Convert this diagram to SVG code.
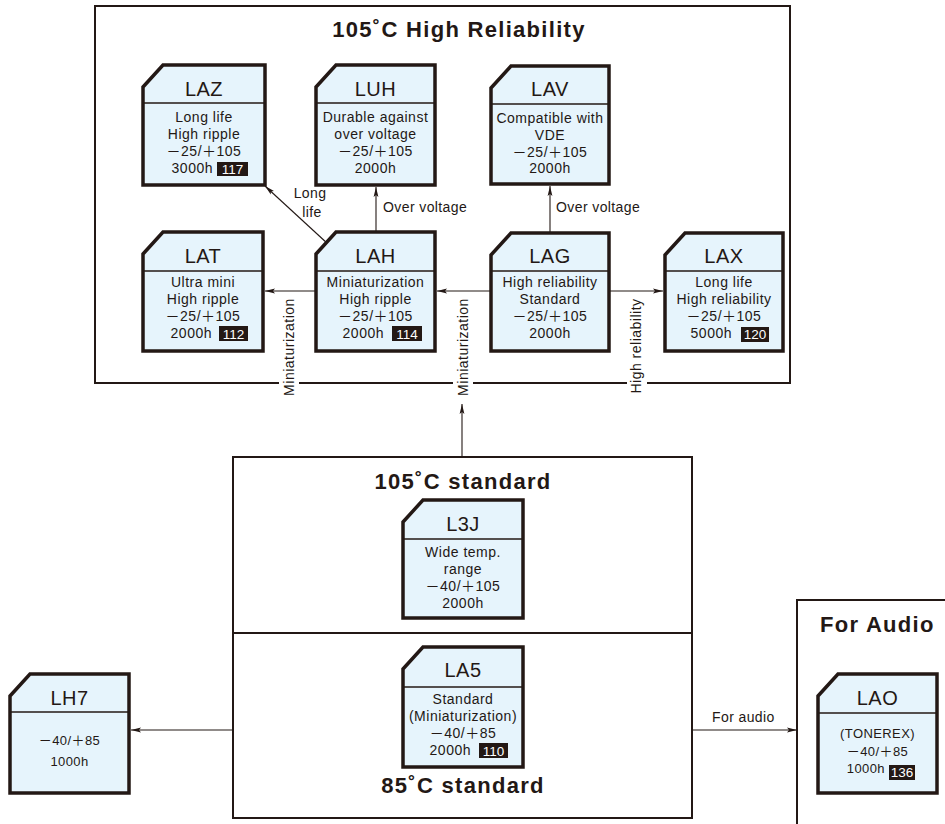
<svg xmlns="http://www.w3.org/2000/svg" width="945" height="824" viewBox="0 0 945 824">
<defs>
<style>
.grp{fill:none;stroke:#231815;stroke-width:2}
.nb{fill:#E6F4FC;stroke:#231815;stroke-width:3.5;stroke-linejoin:miter}
.sep{stroke:#231815;stroke-width:1.5}
text{font-family:"Liberation Sans","Noto Sans CJK JP",Arial,sans-serif;fill:#231815}
.hd{font-size:20px;text-anchor:middle;letter-spacing:0.5px}
.bd{font-size:14px;text-anchor:middle;letter-spacing:0.5px}
.bs{font-size:13px;text-anchor:middle;letter-spacing:0.4px}
.be{font-size:14px;text-anchor:end;letter-spacing:0.5px}
.bse{font-size:13px;text-anchor:end;letter-spacing:0.4px}
.ttl{font-size:22px;font-weight:bold;letter-spacing:1.3px}
.lbl{font-size:14px;letter-spacing:0.4px}
.vl{font-size:14px;letter-spacing:0.5px;text-anchor:middle}
.bg{fill:#231815}
.bt{font-size:13.5px;fill:#ffffff;text-anchor:middle}
.con{stroke:#231815;stroke-width:1.1;fill:none;marker-end:url(#ah)}
.gap{fill:#ffffff}
</style>
<marker id="ah" markerUnits="userSpaceOnUse" markerWidth="12" markerHeight="8" refX="10" refY="4" orient="auto">
<path d="M0,1.6 L10,4 L0,6.4 L2,4 Z" fill="#231815"/>
</marker>
</defs>
<rect width="945" height="824" fill="#ffffff"/>

<g id="group-boxes">
<rect class="grp" x="95" y="6" width="695" height="377"/>
<rect class="grp" x="233" y="457" width="459" height="361"/>
<line class="grp" x1="233" y1="633" x2="692" y2="633"/>
<rect class="grp" x="797" y="600" width="200" height="300"/>
<rect class="gap" x="279" y="379" width="20" height="8"/>
<rect class="gap" x="453" y="379" width="20" height="8"/>
<rect class="gap" x="627" y="379" width="20" height="8"/>
<text class="ttl" x="459" y="37" text-anchor="middle">105˚C High Reliability</text>
<text class="ttl" x="463" y="489" text-anchor="middle">105˚C standard</text>
<text class="ttl" x="463" y="793" text-anchor="middle">85˚C standard</text>
<text class="ttl" x="820" y="632">For Audio</text>
</g>

<g id="connectors">
<line class="con" x1="316" y1="291" x2="265" y2="291"/>
<line class="con" x1="491" y1="291" x2="437" y2="291"/>
<line class="con" x1="609" y1="291" x2="663" y2="291"/>
<line class="con" x1="328" y1="244" x2="265" y2="186"/>
<line class="con" x1="376" y1="232" x2="376" y2="187"/>
<line class="con" x1="550" y1="233" x2="550" y2="186"/>
<line class="con" x1="462" y1="457" x2="462" y2="404"/>
<line class="con" x1="233" y1="730" x2="131" y2="730"/>
<line class="con" x1="692" y1="730" x2="797" y2="730"/>
<text class="lbl" x="310" y="198" text-anchor="middle">Long</text>
<text class="lbl" x="312" y="217" text-anchor="middle">life</text>
<text class="lbl" x="383" y="212">Over voltage</text>
<text class="lbl" x="556" y="212">Over voltage</text>
<text class="lbl" x="712" y="722">For audio</text>
<text class="vl" transform="translate(294,347) rotate(-90)">Miniaturization</text>
<text class="vl" transform="translate(468,347) rotate(-90)">Miniaturization</text>
<text class="vl" transform="translate(641,346) rotate(-90)">High reliability</text>
</g>

<g id="LAZ">
<path class="nb" d="M163,65 H265 V185 H143 V87 Z"/>
<line class="sep" x1="143" y1="103" x2="265" y2="103"/>
<text class="hd" x="204" y="96">LAZ</text>
<text class="bd" x="204" y="122">Long life</text>
<text class="bd" x="204" y="139">High ripple</text>
<text class="bd" x="204" y="156">－25/＋105</text>
<text class="be" x="213" y="173">3000h</text>
<rect class="bg" x="217" y="162" width="31" height="14"/>
<text class="bt" x="232.5" y="173.5">117</text>
</g>

<g id="LUH">
<path class="nb" d="M336,65 H435 V185 H316 V87 Z"/>
<line class="sep" x1="316" y1="103" x2="435" y2="103"/>
<text class="hd" x="375.5" y="96">LUH</text>
<text class="bd" x="375.5" y="122">Durable against</text>
<text class="bd" x="375.5" y="139">over voltage</text>
<text class="bd" x="375.5" y="156">－25/＋105</text>
<text class="bd" x="375.5" y="173">2000h</text>
</g>

<g id="LAV">
<path class="nb" d="M511,66 H609 V184 H491 V88 Z"/>
<line class="sep" x1="491" y1="104" x2="609" y2="104"/>
<text class="hd" x="550" y="96">LAV</text>
<text class="bd" x="550" y="123">Compatible with</text>
<text class="bd" x="550" y="140">VDE</text>
<text class="bd" x="550" y="157">－25/＋105</text>
<text class="bd" x="550" y="173">2000h</text>
</g>

<g id="LAT">
<path class="nb" d="M163,232 H263 V351 H143 V254 Z"/>
<line class="sep" x1="143" y1="271" x2="263" y2="271"/>
<text class="hd" x="203" y="263">LAT</text>
<text class="bd" x="203" y="287">Ultra mini</text>
<text class="bd" x="203" y="304">High ripple</text>
<text class="bd" x="203" y="321">－25/＋105</text>
<text class="be" x="212" y="338">2000h</text>
<rect class="bg" x="219" y="326" width="29" height="15"/>
<text class="bt" x="233.5" y="338.5">112</text>
</g>

<g id="LAH">
<path class="nb" d="M336,232 H435 V351 H316 V254 Z"/>
<line class="sep" x1="316" y1="271" x2="435" y2="271"/>
<text class="hd" x="375.5" y="263">LAH</text>
<text class="bd" x="375.5" y="287">Miniaturization</text>
<text class="bd" x="375.5" y="304">High ripple</text>
<text class="bd" x="375.5" y="321">－25/＋105</text>
<text class="be" x="384" y="338">2000h</text>
<rect class="bg" x="392" y="326" width="30" height="15"/>
<text class="bt" x="407" y="338.5">114</text>
</g>

<g id="LAG">
<path class="nb" d="M511,233 H609 V351 H491 V255 Z"/>
<line class="sep" x1="491" y1="271" x2="609" y2="271"/>
<text class="hd" x="550" y="263">LAG</text>
<text class="bd" x="550" y="287">High reliability</text>
<text class="bd" x="550" y="304">Standard</text>
<text class="bd" x="550" y="321">－25/＋105</text>
<text class="bd" x="550" y="338">2000h</text>
</g>

<g id="LAX">
<path class="nb" d="M685,233 H783 V351 H665 V255 Z"/>
<line class="sep" x1="665" y1="271" x2="783" y2="271"/>
<text class="hd" x="724" y="263">LAX</text>
<text class="bd" x="724" y="287">Long life</text>
<text class="bd" x="724" y="304">High reliability</text>
<text class="bd" x="724" y="321">－25/＋105</text>
<text class="be" x="732" y="338">5000h</text>
<rect class="bg" x="741" y="327" width="28" height="15"/>
<text class="bt" x="755" y="339">120</text>
</g>

<g id="L3J">
<path class="nb" d="M423,500 H523 V618 H403 V522 Z"/>
<line class="sep" x1="403" y1="539" x2="523" y2="539"/>
<text class="hd" x="463" y="531">L3J</text>
<text class="bd" x="463" y="557">Wide temp.</text>
<text class="bd" x="463" y="574">range</text>
<text class="bd" x="463" y="591">－40/＋105</text>
<text class="bd" x="463" y="608">2000h</text>
</g>

<g id="LA5">
<path class="nb" d="M423,647 H523 V767 H403 V669 Z"/>
<line class="sep" x1="403" y1="687" x2="523" y2="687"/>
<text class="hd" x="463" y="677">LA5</text>
<text class="bd" x="463" y="704">Standard</text>
<text class="bd" x="463" y="721">(Miniaturization)</text>
<text class="bd" x="463" y="738">－40/＋85</text>
<text class="be" x="471" y="755">2000h</text>
<rect class="bg" x="479" y="743" width="29" height="15"/>
<text class="bt" x="493.5" y="755.5">110</text>
</g>

<g id="LH7">
<path class="nb" d="M30,674 H129 V793 H10 V696 Z"/>
<line class="sep" x1="10" y1="712" x2="129" y2="712"/>
<text class="hd" x="69.5" y="705">LH7</text>
<text class="bs" x="69.5" y="745">－40/＋85</text>
<text class="bs" x="69.5" y="766">1000h</text>
</g>

<g id="LAO">
<path class="nb" d="M838,674 H937 V793 H818 V696 Z"/>
<line class="sep" x1="818" y1="713" x2="937" y2="713"/>
<text class="hd" x="877.5" y="705">LAO</text>
<text class="bs" x="877.5" y="738">(TONEREX)</text>
<text class="bs" x="877.5" y="756">－40/＋85</text>
<text class="bse" x="885" y="773">1000h</text>
<rect class="bg" x="889" y="765" width="26" height="15"/>
<text class="bt" x="902" y="777">136</text>
</g>
</svg>
